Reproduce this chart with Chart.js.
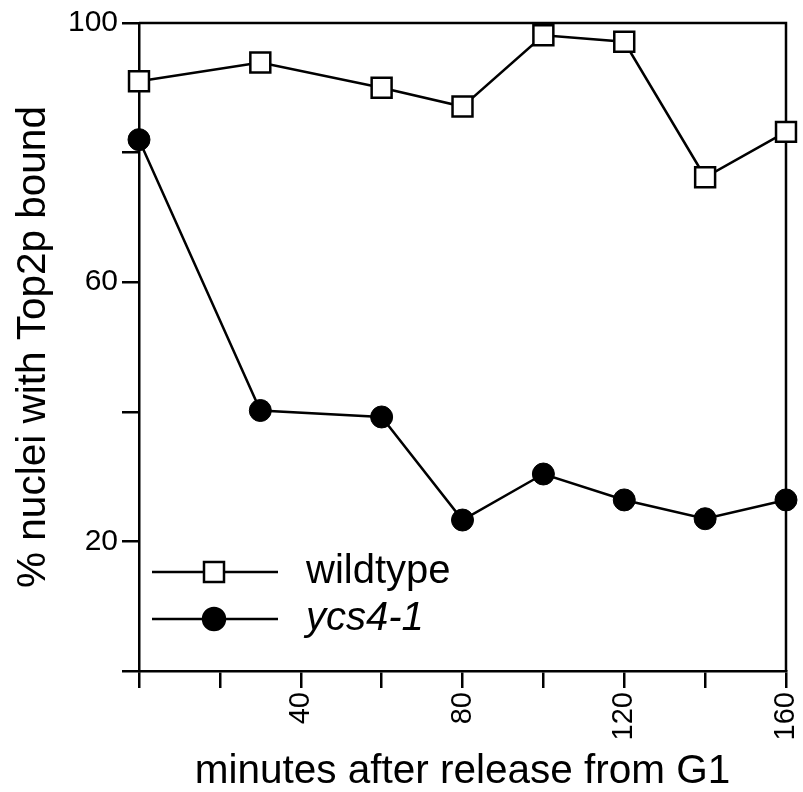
<!DOCTYPE html>
<html>
<head>
<meta charset="utf-8">
<title>Top2p bound nuclei</title>
<script src="https://cdn.jsdelivr.net/npm/chart.js@4.4.1/dist/chart.umd.min.js"></script>
<style>
  html, body { margin: 0; padding: 0; background: #fff; }
</style>
</head>
<body>
<canvas id="chart" width="803" height="792"></canvas>
<script>
/* 数据：数值 */
const minutes = [0, 30, 60, 80, 100, 120, 140, 160];
const wildtype = [91.0, 93.9, 90.0, 87.1, 98.1, 97.1, 76.2, 83.2];
const ycs4 = [82.0, 40.2, 39.2, 23.3, 30.4, 26.4, 23.5, 26.4];
const seriesNames = ['wildtype', 'ycs4-1'];
const xLabelled = [40, 80, 120, 160];
const yLabelled = [20, 60, 100];

const FONT = '"Liberation Sans", Arial, Helvetica, sans-serif';
const LINE_W = 2.5;

document.addEventListener('DOMContentLoaded', () => {
    const ctx = document.getElementById('chart').getContext('2d');

    // 画出上边和右边的框线
    const framePlugin = {
        id: 'frame',
        beforeDatasetsDraw(chart) {
            const { ctx, chartArea: a } = chart;
            ctx.save();
            ctx.strokeStyle = '#000';
            ctx.lineWidth = LINE_W;
            ctx.beginPath();
            ctx.moveTo(a.left, a.top);
            ctx.lineTo(a.right, a.top);
            ctx.lineTo(a.right, a.bottom);
            ctx.stroke();
            ctx.restore();
        }
    };

    // 图内左下角的图例
    const legendPlugin = {
        id: 'innerLegend',
        afterDraw(chart) {
            const { ctx, chartArea: a } = chart;
            const rows = [a.bottom - 99, a.bottom - 52];
            ctx.save();
            chart.data.datasets.forEach((ds, i) => {
                const y = rows[i];
                ctx.strokeStyle = '#000';
                ctx.lineWidth = LINE_W;
                ctx.beginPath();
                ctx.moveTo(a.left + 13, y);
                ctx.lineTo(a.left + 139, y);
                ctx.stroke();
                const cx = a.left + 75;
                ctx.beginPath();
                if (ds.pointStyle === 'rect') {
                    ctx.rect(cx - 10, y - 10, 20, 20);
                } else {
                    ctx.arc(cx, y, ds.pointRadius, 0, Math.PI * 2);
                }
                ctx.fillStyle = ds.pointBackgroundColor;
                ctx.fill();
                ctx.stroke();
                ctx.fillStyle = '#000';
                ctx.textBaseline = 'middle';
                ctx.textAlign = 'left';
                ctx.font = (i === 1 ? 'italic ' : '') + '40px ' + FONT;
                ctx.fillText(ds.label, a.left + 167, y);
            });
            ctx.restore();
        }
    };

    const toPoints = ys => minutes.map((m, i) => ({ x: m, y: ys[i] }));

    new Chart(ctx, {
        type: 'line',
        data: {
            datasets: [
                {
                    label: seriesNames[0],
                    data: toPoints(wildtype),
                    borderColor: '#000',
                    borderWidth: LINE_W,
                    pointStyle: 'rect',
                    pointRadius: 14.1,
                    pointBorderWidth: LINE_W,
                    pointBackgroundColor: '#fff',
                    pointBorderColor: '#000',
                    clip: false
                },
                {
                    label: seriesNames[1],
                    data: toPoints(ycs4),
                    borderColor: '#000',
                    borderWidth: LINE_W,
                    pointStyle: 'circle',
                    pointRadius: 11,
                    pointBorderWidth: 1,
                    pointBackgroundColor: '#000',
                    pointBorderColor: '#000',
                    clip: false
                }
            ]
        },
        options: {
            responsive: false,
            animation: false,
            layout: { autoPadding: false, padding: { top: 23, right: 17, left: 0, bottom: 0 } },
            plugins: {
                legend: { display: false },
                tooltip: { enabled: false }
            },
            scales: {
                x: {
                    type: 'linear',
                    min: 0,
                    max: 160,
                    afterFit(scale) {
                        scale.height = 121;
                        scale.paddingLeft = 0;
                        scale.paddingRight = 0;
                    },
                    border: { display: true, color: '#000', width: LINE_W },
                    grid: { drawOnChartArea: false, drawTicks: true, tickLength: 17, color: '#000', lineWidth: LINE_W },
                    ticks: {
                        stepSize: 20,
                        minRotation: 90,
                        maxRotation: 90,
                        autoSkip: false,
                        padding: 4,
                        color: '#000',
                        font: { family: FONT, size: 29 },
                        callback: v => xLabelled.includes(v) ? String(v) : ''
                    },
                    title: {
                        display: true,
                        text: 'minutes after release from G1',
                        color: '#000',
                        font: { family: FONT, size: 40.5, lineHeight: 1 },
                        padding: { top: 0, bottom: 0 }
                    }
                },
                y: {
                    min: 0,
                    max: 100,
                    afterFit(scale) {
                        scale.width = 139;
                        scale.paddingTop = 0;
                        scale.paddingBottom = 0;
                    },
                    border: { display: true, color: '#000', width: LINE_W },
                    grid: { drawOnChartArea: false, drawTicks: true, tickLength: 17, color: '#000', lineWidth: LINE_W },
                    ticks: {
                        stepSize: 20,
                        padding: 4,
                        color: '#000',
                        font: { family: FONT, size: 30 },
                        callback: v => yLabelled.includes(v) ? String(v) : ''
                    },
                    title: {
                        display: true,
                        text: '% nuclei with Top2p bound',
                        color: '#000',
                        font: { family: FONT, size: 40.5 },
                        padding: { top: 10, bottom: 0 }
                    }
                }
            }
        },
        plugins: [framePlugin, legendPlugin]
    });
});
</script>
</body>
</html>
